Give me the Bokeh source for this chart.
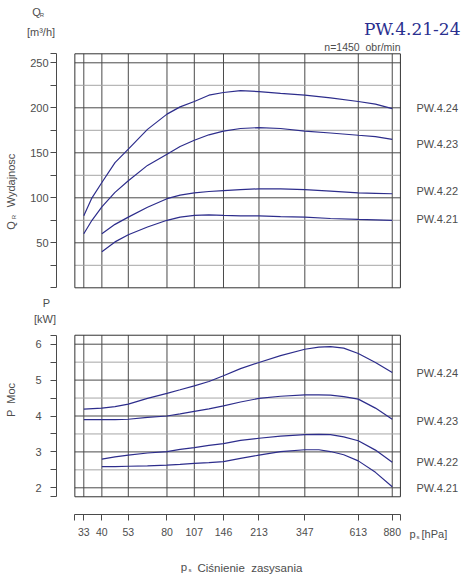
import math
from bokeh.plotting import figure
from bokeh.models import Range1d, FixedTicker, Label
from bokeh.layouts import column
from bokeh.embed import file_html
from bokeh.resources import INLINE

# ---------------- data ----------------
series_names = ["PW.4.21", "PW.4.22", "PW.4.23", "PW.4.24"]
x_ticks = [33, 40, 53, 80, 107, 146, 213, 347, 613, 880]
x_bounds = [30, 960]

q_grid = [25, 50, 75, 100, 125, 150, 175, 200, 225, 250]
q_labels = [50, 100, 150, 200, 250]
q_bounds = [0, 260]

p_grid = [2, 2.5, 3, 3.5, 4, 4.5, 5, 5.5, 6]
p_labels = [2, 3, 4, 5, 6]
p_bounds = [1.75, 6.25]

# capacity Q [m3/h]
q_x_long = [33, 36, 40, 46, 53, 65, 80, 92, 107, 125, 146, 175, 213, 268, 347, 456, 613, 736, 880]
q_x_short = [40, 46, 53, 65, 80, 92, 107, 125, 146, 175, 213, 268, 347, 456, 613, 736, 880]
q_pw424 = [80, 100, 117, 139, 154, 176, 193, 201, 207, 214, 217, 219, 218, 216, 214, 211, 207, 204, 199]
q_pw423 = [60, 75, 90, 106, 119, 136, 148.5, 157, 164, 170, 174, 177, 178, 177, 174, 172, 169.5, 168, 165]
q_pw422 = [60, 70.5, 78.5, 89.5, 99, 103, 105.5, 107, 108, 109, 110, 110, 109, 107.5, 105.5, 105, 104.5]
q_pw421 = [40, 51, 59, 67.5, 75, 78.5, 80.5, 81, 80.5, 80, 80, 79, 78.5, 77, 76, 75.5, 75]

# power P [kW]
p_x_long = [33, 40, 46, 53, 65, 80, 92, 107, 125, 146, 175, 213, 268, 347, 403, 456, 525, 613, 736, 880]
p_x_short = [40, 46, 53, 65, 80, 92, 107, 125, 146, 175, 213, 268, 347, 403, 456, 525, 613, 736, 880]
p_pw424 = [4.19, 4.22, 4.26, 4.33, 4.49, 4.63, 4.73, 4.84, 4.96, 5.12, 5.32, 5.49, 5.68, 5.86, 5.92, 5.93, 5.89, 5.74, 5.49, 5.21]
p_pw423 = [3.90, 3.90, 3.90, 3.91, 3.96, 4.00, 4.06, 4.13, 4.20, 4.28, 4.39, 4.49, 4.55, 4.59, 4.59, 4.58, 4.54, 4.47, 4.22, 3.91]
p_pw422 = [2.80, 2.86, 2.91, 2.97, 3.01, 3.07, 3.12, 3.18, 3.23, 3.32, 3.38, 3.44, 3.48, 3.49, 3.48, 3.42, 3.31, 3.05, 2.71]
p_pw421 = [2.59, 2.59, 2.60, 2.61, 2.63, 2.65, 2.68, 2.70, 2.73, 2.82, 2.91, 3.01, 3.06, 3.06, 3.01, 2.92, 2.75, 2.43, 2.03]

# ---------------- layout helpers (picture pixels -> data) ----------------
W = 469
H_Q = 292
H_P = 288
FONT = "Liberation Sans"
TXT = "#4d4d4d"
CURVE = "#2d2d8c"
DARK = "#4a4a4a"
LIGHT = "#a6a6a6"
NB = "\u00a0"


def xd(px):
    return 33 * 10 ** ((px - 83.3) / 216.3)


def yq(py):
    return (287.3 - py) / 0.9


def yp(py):
    return 2 + (487.3 - py) / 35.9


def lab(p, text, x, y, size="11px", align="left", base="middle", color=TXT,
        font=FONT, angle=0.0):
    p.add_layout(Label(x=x, y=y, text=text, text_font=font, text_font_size=size,
                       text_color=color, text_align=align, text_baseline=base,
                       angle=angle))


def style_axis(ax, ticks, labels, bounds, standoff, size="11px"):
    ax.ticker = FixedTicker(ticks=ticks)
    ax.bounds = tuple(bounds)
    ax.major_label_overrides = labels
    ax.major_tick_out = 6
    ax.major_tick_in = 0
    ax.minor_tick_out = 0
    ax.minor_tick_in = 0
    ax.axis_line_color = DARK
    ax.major_tick_line_color = DARK
    ax.major_label_standoff = standoff
    ax.major_label_text_font = FONT
    ax.major_label_text_font_size = size
    ax.major_label_text_color = TXT


def base_fig(height, yr):
    p = figure(width=W, height=height, x_axis_type="log",
               x_range=Range1d(xd(0), xd(W)), y_range=yr,
               toolbar_location=None, output_backend="svg",
               min_border_left=0, min_border_right=0, min_border_top=0,
               min_border_bottom=0)
    p.title = None
    p.xgrid.visible = False
    p.ygrid.visible = False
    p.outline_line_color = None
    return p


def grid(p, hvals_dark, hvals_light, yb):
    n = len(x_ticks)
    p.segment(x0=x_ticks, x1=x_ticks, y0=[yb[0]] * n, y1=[yb[1]] * n,
              line_color=DARK, line_width=1)
    p.segment(x0=[x_bounds[0]] * len(hvals_light), x1=[x_bounds[1]] * len(hvals_light),
              y0=hvals_light, y1=hvals_light, line_color=LIGHT, line_width=1)
    p.segment(x0=[x_bounds[0]] * len(hvals_dark), x1=[x_bounds[1]] * len(hvals_dark),
              y0=hvals_dark, y1=hvals_dark, line_color=DARK, line_width=1)
    p.quad(left=[x_bounds[0]], right=[x_bounds[1]], bottom=[yb[0]], top=[yb[1]],
           fill_color=None, line_color="#333333", line_width=1)


# ---------------- Q chart ----------------
pq = base_fig(H_Q, Range1d(yq(H_Q), yq(0)))
pq.xaxis.visible = False
grid(pq, [v for v in q_grid if v in q_labels], [v for v in q_grid if v not in q_labels], q_bounds)
for xs, ys in [(q_x_long, q_pw424), (q_x_long, q_pw423), (q_x_short, q_pw422), (q_x_short, q_pw421)]:
    pq.line(xs, ys, line_color=CURVE, line_width=1.2)

q_ticks = [q_bounds[0]] + q_grid + [q_bounds[1]]
q_over = {v: "" for v in q_ticks}
for v in q_labels:
    q_over[v] = str(v) if v >= 100 else "\u2007" + str(v)
yax = pq.yaxis[0]
yax.fixed_location = xd(56)
style_axis(yax, q_ticks, q_over, q_bounds, 2)

lab(pq, "PW.4.21-24", xd(460), yq(28.5), size="17px", align="right", base="alphabetic",
    color="#2a2f8f", font="DejaVu Serif")
lab(pq, "n=1450" + NB + NB + "obr/min", xd(400), yq(46.3), size="10.5px", align="right",
    base="alphabetic")
lab(pq, "Q", xd(36), yq(11.5), align="center")
lab(pq, "R", xd(41.5), yq(14.5), size="6px", align="center")
lab(pq, "[m\u00b3/h]", xd(40.5), yq(31.7), align="center")
lab(pq, "Q", xd(10), yq(225), align="center", angle=math.pi / 2)
lab(pq, "R", xd(13), yq(216.5), size="6px", align="center", angle=math.pi / 2)
lab(pq, "Wydajnosc", xd(10), yq(180), align="center", angle=math.pi / 2)
for name, py in zip(series_names, [218.5, 190, 143, 107]):
    lab(pq, name, xd(416), yq(py))

# ---------------- P chart ----------------
pp = base_fig(H_P, Range1d(yp(H_Q + H_P), yp(H_Q)))
grid(pp, [v for v in p_grid if v in p_labels], [v for v in p_grid if v not in p_labels], p_bounds)
for xs, ys in [(p_x_long, p_pw424), (p_x_long, p_pw423), (p_x_short, p_pw422), (p_x_short, p_pw421)]:
    pp.line(xs, ys, line_color=CURVE, line_width=1.2)

p_ticks = [p_bounds[0]] + p_grid + [p_bounds[1]]
p_over = {v: "" for v in p_ticks}
for v in p_labels:
    p_over[v] = str(v)
pyax = pp.yaxis[0]
pyax.fixed_location = xd(56)
style_axis(pyax, p_ticks, p_over, p_bounds, 9)

xt = [x_bounds[0]] + x_ticks + [x_bounds[1]]
xo = {v: "" for v in xt}
for v in x_ticks:
    xo[v] = str(v)
xa = pp.xaxis[0]
xa.fixed_location = yp(514)
style_axis(xa, xt, xo, x_bounds, 7, size="10.5px")

lab(pp, "P", xd(46), yp(302.5), align="center")
lab(pp, "[kW]", xd(44.5), yp(318), align="center")
lab(pp, "P" + NB + NB + "Moc", xd(10), yp(399.5), align="center", angle=math.pi / 2)
for name, py in zip(series_names, [487, 461, 420, 372]):
    lab(pp, name, xd(416), yp(py))
lab(pp, "p", xd(412), yp(533), align="center")
lab(pp, "s", xd(417.5), yp(536.5), size="6px", align="center")
lab(pp, "[hPa]", xd(421), yp(533.5))
lab(pp, "p", xd(183.5), yp(566), size="11.5px", align="center")
lab(pp, "s", xd(189.5), yp(569.5), size="6px", align="center")
lab(pp, "Ci\u015bnienie" + NB + NB + "zasysania", xd(197), yp(567), size="11.5px")

layout = column(pq, pp)
open("out.html", "w").write(file_html(layout, INLINE))
